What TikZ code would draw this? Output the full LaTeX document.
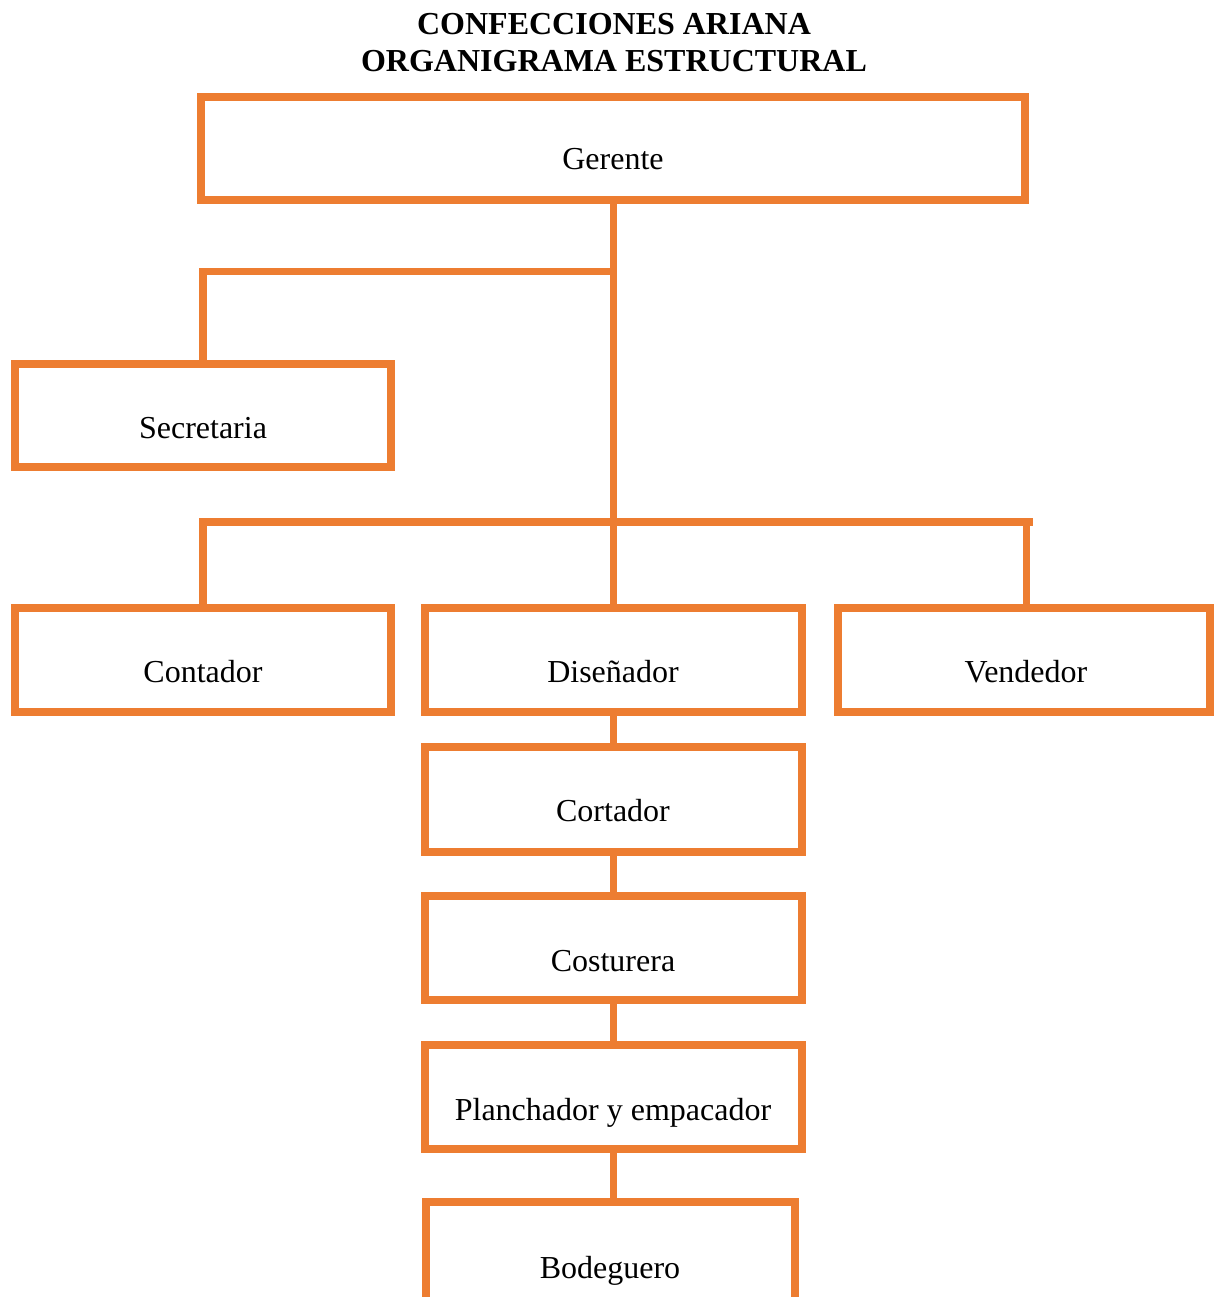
\documentclass[tikz,border=0pt]{standalone}
\usepackage{fontspec}
\setmainfont{Liberation Serif}
\definecolor{borange}{RGB}{237,125,49}
\begin{document}
\begin{tikzpicture}[x=1pt,y=-1pt,
  box/.style={draw=borange,line width=8pt,rectangle,outer sep=0pt,inner sep=0pt,
    minimum height=105pt},
  lbl/.style={anchor=base,inner sep=0pt,font=\fontsize{32}{37}\selectfont},
  ttl/.style={anchor=base,inner sep=0pt,font=\fontsize{32}{37}\selectfont\bfseries},
  conn/.style={draw=borange,line width=7.5pt}]
\clip (0,0) rectangle (1214,1297);
\fill[white] (0,0) rectangle (1214,1297);
% title
\node[ttl] (t1) at (614,35) {CONFECCIONES ARIANA};
\node[ttl] (t2) at (614,72) {ORGANIGRAMA ESTRUCTURAL};
% boxes
\node[box,minimum width=824pt,minimum height=103pt] (ger) at (613,148.5) {};
\node[box,minimum width=376pt,minimum height=103pt] (sec) at (203,415.5) {};
\node[box,minimum width=376pt,minimum height=104pt] (con) at (203,660) {};
\node[box,minimum width=377pt,minimum height=104pt] (dis) at (613.5,660) {};
\node[box,minimum width=372pt,minimum height=104pt] (ven) at (1024,660) {};
\node[box,minimum width=377pt,minimum height=105pt] (cor) at (613.5,799.5) {};
\node[box,minimum width=377pt,minimum height=104pt] (cos) at (613.5,948) {};
\node[box,minimum width=377pt,minimum height=104pt] (pla) at (613.5,1097) {};
\node[box,minimum width=369pt] (bod) at (610.5,1254) {};
% labels
\node[lbl] (lger) at (613,170) {Gerente};
\node[lbl] (lsec) at (203,438) {Secretaria};
\node[lbl] (lcon) at (203,682) {Contador};
\node[lbl] (ldis) at (613,682) {Diseñador};
\node[lbl] (lven) at (1026,682) {Vendedor};
\node[lbl] (lcor) at (613,821) {Cortador};
\node[lbl] (lcos) at (613,971) {Costurera};
\node[lbl] (lpla) at (613,1120) {Planchador y empacador};
\node[lbl] (lbod) at (610,1278) {Bodeguero};
% connectors
\coordinate (j1) at (613.5,271.5);
\coordinate (j2) at (613.5,522);
\coordinate (j2r) at (1033,522);
\coordinate (vtop) at (1026.5,522);
\path[conn] (ger.south -| dis.north) -- (dis.north);
\path[conn] (j1) -| (sec.north);
\path[conn] (con.north) |- (j2) -- (j2r);
\path[conn] (vtop) -- (vtop |- ven.north);
\path[conn] (dis.south) -- (cor.north);
\path[conn] (cor.south) -- (cos.north);
\path[conn] (cos.south) -- (pla.north);
\path[conn] (pla.south) -- (pla.south |- bod.north);
\end{tikzpicture}
\end{document}
